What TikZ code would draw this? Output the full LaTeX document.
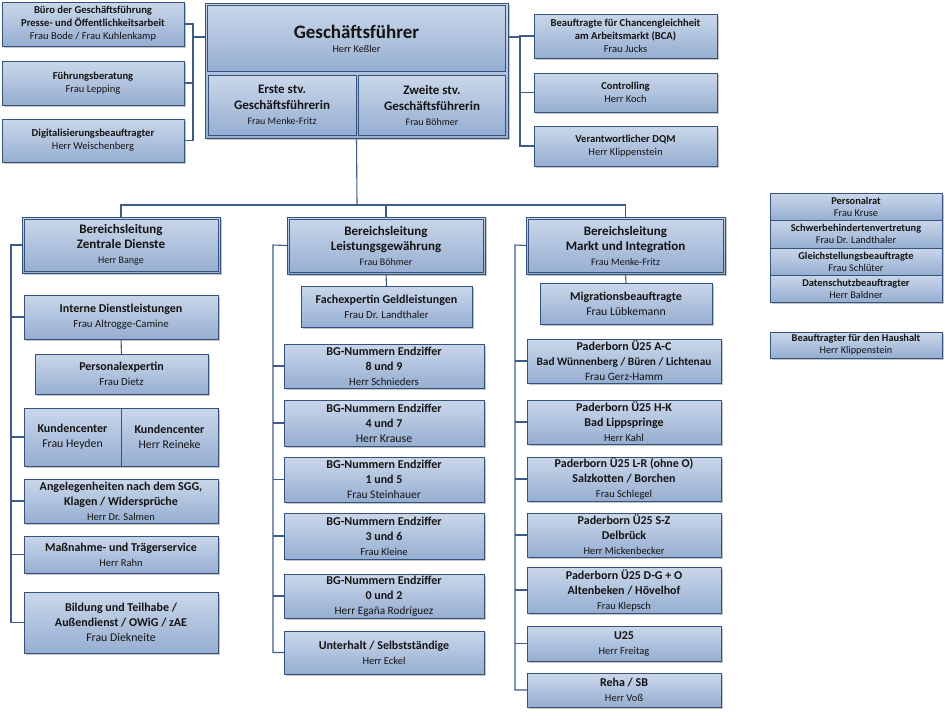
\documentclass[tikz,border=0pt]{standalone}
\usepackage{fontspec}
\setmainfont{Carlito}
\usetikzlibrary{shadows}
\definecolor{boxtop}{RGB}{202,215,234}
\definecolor{boxbot}{RGB}{150,174,209}
\definecolor{boxborder}{RGB}{52,82,124}
\definecolor{connc}{RGB}{62,92,138}
\definecolor{txt}{RGB}{20,20,20}
\pgfdeclarelayer{back}
\pgfdeclarelayer{bg}
\pgfsetlayers{back,bg,main}
\newcommand\ttl[2]{{\bfseries\fontsize{#1}{14}\selectfont #2}}
\newcommand\nm[2]{{\fontsize{#1}{14}\selectfont #2}}
\newcommand\bx[7][box]{%
 \pgfmathsetmacro\bxcx{(#3+#5)/2}%
 \pgfmathsetmacro\bxcy{(#4+#6)/2}%
 \pgfmathsetmacro\bxw{#5-#3}%
 \pgfmathsetmacro\bxh{#6-#4}%
 \node[#1,minimum width=\bxw pt,minimum height=\bxh pt] (#2) at (\bxcx,\bxcy) {#7};}
\newcommand\dblin[1]{\draw[boxborder,line width=0.6pt] ([shift={(2pt,-2pt)}]#1.north west) rectangle ([shift={(-2pt,2pt)}]#1.south east);}
\tikzset{
 flat/.style={draw=boxborder, line width=0.7pt, top color=boxtop, bottom color=boxbot,
   align=center, inner sep=0pt, outer sep=0pt, text=txt, font=\fontsize{10.5}{15}\selectfont},
 box/.style={flat, drop shadow={shadow xshift=1.6pt, shadow yshift=-1.6pt, fill=black!50, opacity=.45}},
 tightbox/.style={box, font=\fontsize{10.5}{13}\selectfont},
 stack/.style={box, font=\fontsize{10.5}{12}\selectfont},
 conn/.style={draw=connc, line width=1.1pt},
}
\begin{document}
\begin{tikzpicture}[x=1pt,y=-1pt]
\begin{pgfonlayer}{back}
\fill[white] (0,0) rectangle (945,726);
\end{pgfonlayer}
\useasboundingbox (0,0) rectangle (945,726);

% ---- Geschaeftsfuehrer group
\bx{gfo}{205}{3}{508}{138}{}
\bx[flat]{gf}{207.5}{5.5}{505.5}{71.5}{\ttl{19}{Geschäftsführer}\\[-1pt]\nm{10.3}{Herr Keßler}}
\bx[flat]{gf1}{208}{75}{356}{135.5}{\ttl{13}{Erste stv.}\\[1pt]\ttl{13}{Geschäftsführerin}\\\nm{10}{Frau Menke-Fritz}}
\bx[flat]{gf2}{358.5}{75}{505.5}{135.5}{\ttl{13}{Zweite stv.}\\[1pt]\ttl{13}{Geschäftsführerin}\\\nm{10}{Frau Böhmer}}

% ---- top left
\bx[tightbox]{buero}{2}{2}{184}{46}{\ttl{10.6}{Büro der Geschäftsführung}\\\ttl{10.6}{Presse- und Öffentlichkeitsarbeit}\\\nm{10.5}{Frau Bode / Frau Kuhlenkamp}}
\bx[tightbox]{fuehr}{2}{61}{184}{105}{\ttl{10.6}{Führungsberatung}\\\nm{10.5}{Frau Lepping}}
\bx[tightbox]{digi}{2}{119}{184}{162}{\ttl{10.6}{Digitalisierungsbeauftragter}\\\nm{10.5}{Herr Weischenberg}}

% ---- top right
\bx[tightbox]{bca}{534}{14}{717}{58}{\ttl{10.6}{Beauftragte für Chancengleichheit}\\\ttl{10.6}{am Arbeitsmarkt (BCA)}\\\nm{10.5}{Frau Jucks}}
\bx[tightbox]{ctrl}{534}{73}{717}{112}{\ttl{10.6}{Controlling}\\\nm{10.5}{Herr Koch}}
\bx[tightbox]{dqm}{534}{126}{717}{166}{\ttl{10.6}{Verantwortlicher DQM}\\\nm{10.5}{Herr Klippenstein}}

% ---- far right stack
\bx[stack]{pr}{770}{193}{942}{220}{\ttl{10.4}{Personalrat}\\\nm{10.3}{Frau Kruse}}
\bx[stack]{sbv}{770}{220}{942}{248}{\ttl{10.4}{Schwerbehindertenvertretung}\\\nm{10.3}{Frau Dr. Landthaler}}
\bx[stack]{gsb}{770}{248}{942}{275}{\ttl{10.4}{Gleichstellungsbeauftragte}\\\nm{10.3}{Frau Schlüter}}
\bx[stack]{dsb}{770}{275}{942}{302}{\ttl{10.4}{Datenschutzbeauftragter}\\\nm{10.3}{Herr Baldner}}
\bx[stack]{hh}{770}{332}{942}{358}{\ttl{10.4}{Beauftragter für den Haushalt}\\\nm{10.3}{Herr Klippenstein}}

% ---- left column
\bx{zd}{22}{217}{220}{273}{\ttl{13}{Bereichsleitung}\\\ttl{13}{Zentrale Dienste}\\\nm{10}{Herr Bange}}
\dblin{zd}
\bx{intern}{24}{295}{218}{339}{\ttl{12}{Interne Dienstleistungen}\\\nm{10.8}{Frau Altrogge-Camine}}
\bx{persx}{35}{354}{208}{394}{\ttl{12}{Personalexpertin}\\\nm{10.8}{Frau Dietz}}
\bx{kca}{24}{408}{121}{466}{\ttl{12}{Kundencenter}\\\nm{11.8}{Frau Heyden}}
\bx{kcb}{121}{408}{218}{466}{\ttl{12}{Kundencenter}\\\nm{11.8}{Herr Reineke}}
\bx{sgg}{24}{479}{218}{523}{\ttl{12}{Angelegenheiten nach dem SGG,}\\\ttl{12}{Klagen / Widersprüche}\\\nm{10.5}{Herr Dr. Salmen}}
\bx{mass}{24}{536}{218}{573}{\ttl{12}{Maßnahme- und Trägerservice}\\\nm{10.5}{Herr Rahn}}
\bx{bild}{24}{592}{218}{653}{\ttl{12}{Bildung und Teilhabe /}\\\ttl{12}{Außendienst / OWiG / zAE}\\\nm{11.8}{Frau Diekneite}}

% ---- middle column
\bx{lg}{287}{217}{485}{274}{\ttl{13}{Bereichsleitung}\\\ttl{13}{Leistungsgewährung}\\\nm{10}{Frau Böhmer}}
\dblin{lg}
\bx{fach}{301}{286}{472}{327}{\ttl{12}{Fachexpertin Geldleistungen}\\\nm{10.8}{Frau Dr. Landthaler}}
\bx{bga}{284}{344}{484}{388}{\ttl{12}{BG-Nummern Endziffer}\\\ttl{12}{8 und 9}\\\nm{10.8}{Herr Schnieders}}
\bx{bgb}{284}{400}{484}{446}{\ttl{12}{BG-Nummern Endziffer}\\\ttl{12}{4 und 7}\\\nm{11.8}{Herr Krause}}
\bx{bgc}{284}{457}{484}{502}{\ttl{12}{BG-Nummern Endziffer}\\\ttl{12}{1 und 5}\\\nm{11.5}{Frau Steinhauer}}
\bx{bgd}{284}{513}{484}{559}{\ttl{12}{BG-Nummern Endziffer}\\\ttl{12}{3 und 6}\\\nm{10.5}{Frau Kleine}}
\bx{bge}{284}{574}{484}{618}{\ttl{12}{BG-Nummern Endziffer}\\\ttl{12}{0 und 2}\\\nm{11.3}{Herr Egaña Rodríguez}}
\bx{unt}{284}{631}{484}{674}{\ttl{12}{Unterhalt / Selbstständige}\\\nm{10.5}{Herr Eckel}}

% ---- right column
\bx{mi}{526}{217}{725}{274}{\ttl{13}{Bereichsleitung}\\\ttl{13}{Markt und Integration}\\\nm{10}{Frau Menke-Fritz}}
\dblin{mi}
\bx{migr}{540}{283}{712}{324}{\ttl{12}{Migrationsbeauftragte}\\\nm{11.8}{Frau Lübkemann}}
\bx{pa}{527}{339}{721}{383}{\ttl{12}{Paderborn Ü25 A-C}\\\ttl{11.3}{Bad Wünnenberg / Büren / Lichtenau}\\\nm{11.3}{Frau Gerz-Hamm}}
\bx{pb}{527}{400}{721}{444}{\ttl{12}{Paderborn Ü25 H-K}\\\ttl{12}{Bad Lippspringe}\\\nm{10.5}{Herr Kahl}}
\bx{pc}{527}{457}{721}{501}{\ttl{12}{Paderborn Ü25 L-R (ohne O)}\\\ttl{12}{Salzkotten / Borchen}\\\nm{10.5}{Frau Schlegel}}
\bx{pd}{527}{513}{721}{557}{\ttl{12}{Paderborn Ü25 S-Z}\\\ttl{12}{Delbrück}\\\nm{10.5}{Herr Mickenbecker}}
\bx{pe}{527}{567}{721}{613}{\ttl{12}{Paderborn Ü25 D-G + O}\\\ttl{12}{Altenbeken / Hövelhof}\\\nm{10.5}{Frau Klepsch}}
\bx{ufm}{527}{626}{721}{661}{\ttl{12}{U25}\\\nm{10.5}{Herr Freitag}}
\bx{reha}{527}{673}{721}{707}{\ttl{12}{Reha / SB}\\\nm{10.5}{Herr Voß}}

% ---- connectors
\begin{pgfonlayer}{bg}
\coordinate (tlsp) at (193,37);
\coordinate (trsp) at (520,37);
\coordinate (hb) at (357,205);
\coordinate (lsp) at (11,245);
\coordinate (msp) at (273,245);
\coordinate (rsp) at (515,245);
% top left
\draw[conn] (buero.east) -| (tlsp);
\draw[conn] (digi.east) -| (tlsp);
\draw[conn] (fuehr.east) -- (fuehr.east -| tlsp);
\draw[conn] (tlsp) -- (tlsp -| gfo.west);
% top right
\draw[conn] (trsp -| gfo.east) -- (trsp);
\draw[conn] (trsp) |- (bca.west);
\draw[conn] (trsp) |- (ctrl.west);
\draw[conn] (trsp) |- (dqm.west);
% down to areas
\draw[conn] (gfo.south) -- (hb);
\draw[conn] (zd.north) -- (zd.north |- hb) -- (mi.north |- hb) -- (mi.north);
\draw[conn] (lg.north) -- (lg.north |- hb);
% left spine
\draw[conn] (zd.west) -- (lsp) |- (bild.west);
\foreach \n in {intern,kca,sgg,mass} \draw[conn] (lsp |- \n.west) -- (\n.west);
\draw[conn] (intern.south) -- (persx.north);
% middle spine
\draw[conn] (lg.west) -- (msp) |- (unt.west);
\foreach \n in {bga,bgb,bgc,bgd,bge} \draw[conn] (msp |- \n.west) -- (\n.west);
\draw[conn] (lg.south) -- (fach.north);
% right spine
\draw[conn] (mi.west) -- (rsp) |- (reha.west);
\foreach \n in {pa,pb,pc,pd,pe,ufm} \draw[conn] (rsp |- \n.west) -- (\n.west);
\draw[conn] (mi.south) -- (migr.north);
\end{pgfonlayer}
\end{tikzpicture}
\end{document}
